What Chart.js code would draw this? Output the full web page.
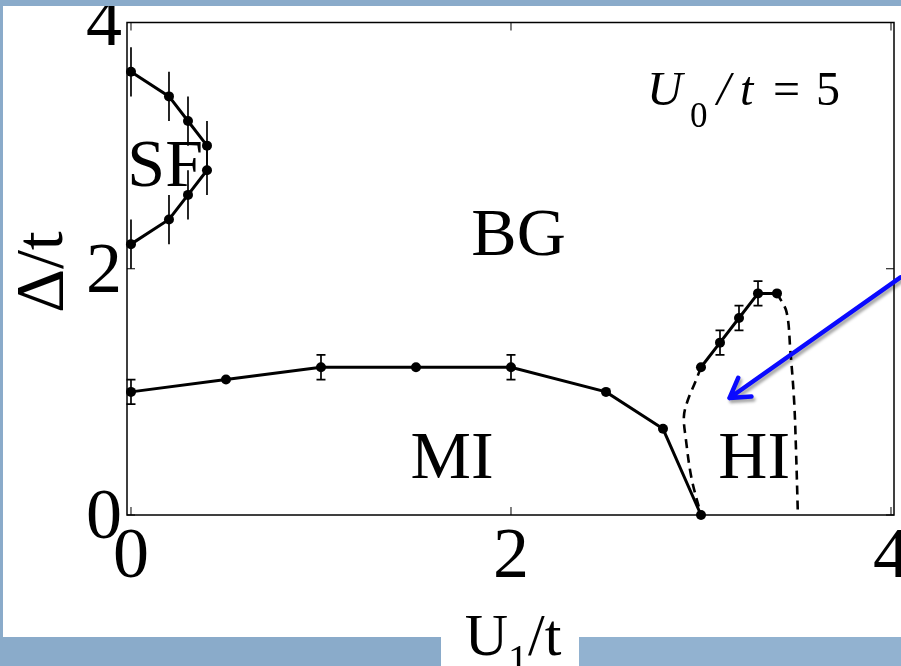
<!DOCTYPE html>
<html><head><meta charset="utf-8">
<script src="https://cdn.jsdelivr.net/npm/chart.js@4.4.1/dist/chart.umd.min.js"></script>
<style>html,body{margin:0;padding:0;background:#8aabca;overflow:hidden}canvas{display:block}</style>
</head><body><canvas id="c" width="901" height="666"></canvas>
<script>
// ---- data ----
const xTicks = [0, 2, 4];
const yTicks = [0, 2, 4];
const sfUpperX = [0, 0.2, 0.3, 0.4];
const sfUpperY = [3.6, 3.4, 3.2, 3.0];
const sfUpperErr = [0.2, 0.2, 0.2, 0.2];
const sfLowerX = [0.4, 0.3, 0.2, 0];
const sfLowerY = [2.8, 2.6, 2.4, 2.2];
const sfLowerErr = [0.2, 0.2, 0.2, 0.2];
const miX = [0, 0.5, 1.0, 1.5, 2.0, 2.5, 2.8, 3.0];
const miY = [1.0, 1.1, 1.2, 1.2, 1.2, 1.0, 0.7, 0];
const miErr = [0.1, 0, 0.1, 0, 0.1, 0, 0, 0];
const hiX = [3.0, 3.1, 3.2, 3.3, 3.4];
const hiY = [1.2, 1.4, 1.6, 1.8, 1.8];
const hiErr = [0, 0.1, 0.1, 0.1, 0];
const dashLX = [3.0, 2.97, 2.93, 2.91, 2.92, 2.95, 3.0];
const dashLY = [1.2, 1.08, 0.93, 0.80, 0.62, 0.30, 0];
const dashRX = [3.4, 3.45, 3.47, 3.49, 3.50, 3.51];
const dashRY = [1.8, 1.65, 1.34, 0.93, 0.53, 0];
const phaseLabels = ['SF', 'BG', 'MI', 'HI'];
const phaseX = [0.18, 2.04, 1.69, 3.28];
const phaseY = [2.67, 2.11, 0.30, 0.30];
const paramAnchor = [2.716, 3.33]; // U0/t = 5 label (left, baseline)
const arrowFrom = [4.05, 1.93];
const arrowTo = [3.15, 0.95];

const SERIF = "'Liberation Serif','Times New Roman',serif";
const pts = (xs, ys) => xs.map((x, i) => ({x: x, y: ys[i]}));

function solid(xs, ys) {
  return {data: pts(xs, ys), borderColor: '#000', backgroundColor: '#000', borderWidth: 3,
    pointRadius: 5, pointBackgroundColor: '#000', pointBorderWidth: 0, tension: 0, clip: false};
}
function dashed(xs, ys) {
  return {data: pts(xs, ys), borderColor: '#000', borderWidth: 2.6, borderDash: [9, 6],
    pointRadius: 0, tension: 0.35, clip: false};
}

const errSets = [
  {xs: sfUpperX, ys: sfUpperY, e: sfUpperErr, cap: 0},
  {xs: sfLowerX, ys: sfLowerY, e: sfLowerErr, cap: 0},
  {xs: miX, ys: miY, e: miErr, cap: 4.5},
  {xs: hiX, ys: hiY, e: hiErr, cap: 4.5}
];

const deco = {
  id: 'deco',
  beforeDraw(chart) {
    const c = chart.ctx, W = chart.width, H = chart.height;
    c.save();
    c.fillStyle = '#ffffff'; c.fillRect(0, 0, W, H);
    c.restore();
  },
  afterDraw(chart) {
    const c = chart.ctx, a = chart.chartArea, W = chart.width, H = chart.height;
    const xs = chart.scales.x, ys = chart.scales.y;
    c.save();
    // slide frame (blue margins)
    c.fillStyle = '#8aabca';
    c.fillRect(0, 0, W, 6);
    c.fillRect(0, 0, 3, H);
    c.fillRect(0, 637, 441, H - 637);
    c.fillStyle = '#92b2d0';
    c.fillRect(579, 637, W - 579, H - 637);
    // box
    c.strokeStyle = '#000'; c.lineWidth = 1.5;
    c.strokeRect(a.left, a.top, a.right - a.left, a.bottom - a.top);
    // inward ticks
    c.lineWidth = 1;
    xTicks.forEach(v => {
      const px = xs.getPixelForValue(v);
      c.beginPath(); c.moveTo(px, a.bottom); c.lineTo(px, a.bottom - 8);
      c.moveTo(px, a.top); c.lineTo(px, a.top + 8); c.stroke();
    });
    yTicks.forEach(v => {
      const py = ys.getPixelForValue(v);
      c.beginPath(); c.moveTo(a.left, py); c.lineTo(a.left + 8, py);
      c.moveTo(a.right, py); c.lineTo(a.right - 8, py); c.stroke();
    });
    // error bars
    c.lineWidth = 1.7; c.strokeStyle = '#000';
    errSets.forEach(s => {
      s.xs.forEach((x, i) => {
        const e = s.e[i]; if (!e) return;
        const px = xs.getPixelForValue(x);
        const y1 = ys.getPixelForValue(s.ys[i] - e), y2 = ys.getPixelForValue(s.ys[i] + e);
        c.beginPath(); c.moveTo(px, y1); c.lineTo(px, y2);
        if (s.cap) {
          c.moveTo(px - s.cap, y1); c.lineTo(px + s.cap, y1);
          c.moveTo(px - s.cap, y2); c.lineTo(px + s.cap, y2);
        }
        c.stroke();
      });
    });
    // phase labels
    c.fillStyle = '#000'; c.font = '68px ' + SERIF; c.textAlign = 'center'; c.textBaseline = 'alphabetic';
    phaseLabels.forEach((t, i) => c.fillText(t, xs.getPixelForValue(phaseX[i]), ys.getPixelForValue(phaseY[i])));
    // U0/t = 5
    const px = xs.getPixelForValue(paramAnchor[0]), py = ys.getPixelForValue(paramAnchor[1]);
    c.textAlign = 'left';
    c.font = 'italic 49px ' + SERIF; c.fillText('U', px, py);
    c.font = '35px ' + SERIF; c.fillText('0', px + 43, py + 22);
    c.font = 'italic 48px ' + SERIF; c.fillText('/', px + 70, py);
    c.fillText('t', px + 93, py);
    c.font = '48px ' + SERIF; c.fillText('=', px + 126, py);
    c.fillText('5', px + 169, py);
    // y title Δ/t
    c.save();
    c.translate(44, 272); c.rotate(-Math.PI / 2);
    c.font = '68px ' + SERIF; c.textAlign = 'center'; c.textBaseline = 'middle';
    c.fillText('Δ/t', 0, 0);
    c.restore();
    // x title U1/t
    c.textAlign = 'left'; c.textBaseline = 'alphabetic';
    c.font = '60px ' + SERIF;
    const wU = c.measureText('U').width, wT = c.measureText('/t').width;
    c.font = '40px ' + SERIF; const w1 = c.measureText('1').width;
    const cx = 513;
    const sx = cx - (wU + w1 + wT) / 2;
    c.font = '60px ' + SERIF; c.fillText('U', sx, 655);
    c.font = '40px ' + SERIF; c.fillText('1', sx + wU, 672);
    c.font = '60px ' + SERIF; c.fillText('/t', sx + wU + w1, 655);
    // arrow
    const tx = xs.getPixelForValue(arrowTo[0]), ty = ys.getPixelForValue(arrowTo[1]);
    const fx = xs.getPixelForValue(arrowFrom[0]), fy = ys.getPixelForValue(arrowFrom[1]);
    const ang = Math.atan2(fy - ty, fx - tx), L = 22, sp = 0.55;
    c.shadowColor = 'rgba(0,0,0,0.35)'; c.shadowOffsetX = 2; c.shadowOffsetY = 3; c.shadowBlur = 3;
    c.strokeStyle = '#0a0aff'; c.lineWidth = 4.5; c.lineCap = 'round'; c.lineJoin = 'round';
    c.beginPath(); c.moveTo(fx, fy); c.lineTo(tx, ty);
    c.moveTo(tx + L * Math.cos(ang - sp), ty + L * Math.sin(ang - sp)); c.lineTo(tx, ty);
    c.lineTo(tx + L * Math.cos(ang + sp), ty + L * Math.sin(ang + sp));
    c.stroke();
    c.restore();
  }
};

new Chart(document.getElementById('c'), {
  type: 'line',
  data: {datasets: [
    solid(sfUpperX, sfUpperY), solid(sfLowerX, sfLowerY), solid(miX, miY), solid(hiX, hiY),
    dashed(dashLX, dashLY), dashed(dashRX, dashRY)
  ]},
  options: {
    responsive: false, animation: false, devicePixelRatio: 1,
    layout: {padding: {top: 22.5, right: 7, left: 0, bottom: 0}},
    plugins: {legend: {display: false}, tooltip: {enabled: false}},
    scales: {
      x: {type: 'linear', min: -0.021, max: 4.0158,
        grid: {display: false, drawTicks: false}, border: {display: false},
        ticks: {color: '#000', font: {family: SERIF, size: 72}, padding: 0, maxRotation: 0, autoSkip: false,
          callback: v => String(v)},
        afterBuildTicks: s => { s.ticks = xTicks.map(v => ({value: v})); },
        afterFit: s => { s.height = 151; s.paddingLeft = 0; s.paddingRight = 0; }
      },
      y: {type: 'linear', min: 0, max: 4,
        grid: {display: false, drawTicks: false}, border: {display: false},
        ticks: {color: '#000', font: {family: SERIF, size: 72}, padding: 5, labelOffset: 4, autoSkip: false,
          callback: v => String(v)},
        afterBuildTicks: s => { s.ticks = yTicks.map(v => ({value: v})); },
        afterFit: s => { s.width = 127; s.paddingTop = 0; s.paddingBottom = 0; }
      }
    }
  },
  plugins: [deco]
});
</script>
</body></html>
